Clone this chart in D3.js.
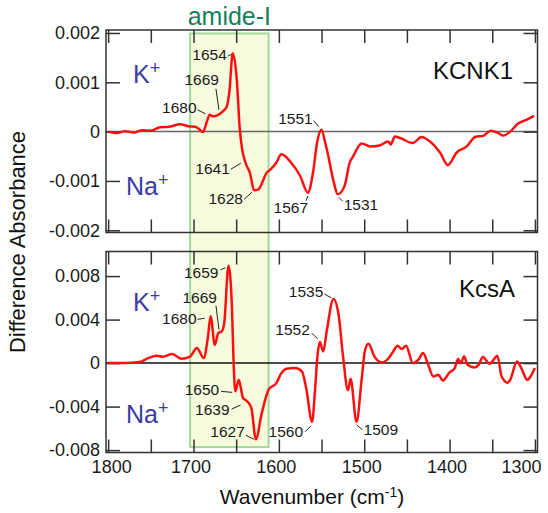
<!DOCTYPE html>
<html>
<head>
<meta charset="utf-8">
<script src="https://cdn.jsdelivr.net/npm/d3@7"></script>
<style>
  body { margin: 0; background: #fff; }
  svg { display: block; font-family: "Liberation Sans", Arial, sans-serif; }
</style>
</head>
<body>
<div id="chart"></div>
<script>
// KCNK1 difference spectrum (top panel)
const kcnk1Wn = [1800, 1790, 1780, 1770, 1760, 1750, 1739, 1728, 1716, 1706, 1698, 1692, 1689, 1684, 1681,
  1677, 1671, 1665, 1661, 1658, 1654, 1649, 1646, 1643, 1640, 1638, 1634, 1629, 1624, 1614, 1610, 1603,
  1597, 1587, 1575, 1566, 1560, 1555, 1550, 1546, 1542, 1536, 1531, 1523, 1517, 1513, 1503, 1493, 1482,
  1472, 1469, 1464, 1458, 1443, 1433, 1423, 1411, 1402, 1392, 1380, 1370, 1360, 1352, 1343, 1337, 1329,
  1320, 1310, 1301];
const kcnk1Abs = [0, -0.00003, 0.00001, -0.00002, 0.00003, 0.00002, 0.00009, 0.0001, 0.00015, 0.00011, 0.0001,
  0.00003, -0.00001, 0.00022, 0.00034, 0.00031, 0.00034, 0.00042, 0.00051, 0.0008, 0.00159, 0.00099, 0.0001,
  -0.00036, -0.00058, -0.00068, -0.00083, -0.00119, -0.00117, -0.00083, -0.00077, -0.00063, -0.00046, -0.0006,
  -0.0009, -0.00124, -0.00083, -0.0002, 0.00004, -0.0002, -0.0005, -0.001, -0.00127, -0.0011, -0.00063, -0.0005,
  -0.00024, -0.0003, -0.00028, -0.0002, -0.00026, -0.0001, -0.00013, -0.00023, -0.00011, -0.0002, -0.00043,
  -0.00068, -0.00043, -0.0003, -0.00011, -0.00008, 0.00002, -0.00003, -0.00008, 0, 0.00016, 0.00024, 0.00032];

// KcsA difference spectrum (bottom panel)
const kcsaWn = [1800, 1780, 1763, 1753, 1743, 1736, 1725, 1714, 1704, 1696, 1688, 1683, 1680, 1675, 1671, 1667,
  1664, 1659, 1655, 1653, 1651, 1647, 1642, 1639, 1636, 1632, 1627, 1620, 1612, 1603, 1597, 1591, 1581, 1573,
  1568, 1561, 1558, 1555, 1552, 1548, 1544, 1536, 1530, 1525, 1519, 1516, 1509, 1503, 1499, 1495, 1488, 1479,
  1472, 1466, 1461, 1456, 1451, 1443, 1436, 1431, 1425, 1419, 1413, 1408, 1400, 1394, 1390, 1387, 1383, 1379,
  1371, 1366, 1361, 1353, 1350, 1344, 1339, 1332, 1329, 1321, 1316, 1309, 1304, 1300];
const kcsaAbs = [0, 0, 0.0001, 0.00046, 0.00067, 0.00058, 0.00083, 0.0004, 0.0006, 0.00138, 0.00046, 0.00245,
  0.0043, 0.00168, 0.00276, 0.0029, 0.00368, 0.00895, 0.0052, 0, -0.0026, -0.00153, -0.0032, -0.0034, -0.0036,
  -0.0042, -0.007, -0.0046, -0.00245, -0.00184, -0.00092, -0.00052, -0.00046, -0.00077, -0.0023, -0.0054,
  -0.0029, 0.00046, 0.00193, 0.00107, 0.0029, 0.0059, 0.00444, 0.00076, -0.0025, -0.00145, -0.0054, -0.0015,
  0.00122, 0.00178, 0.0006, 0.00006, 0.0004, 0.00107, 0.0016, 0.00129, 0.0016, 0, 0.00037, 0.00092, -0.00016,
  -0.00123, -0.00108, -0.0016, -0.00086, -0.00046, 0.00037, 0, 0.0006, -0.00016, -0.0004, -0.00016, 0.00055,
  -0.00006, 0.00015, 0.00067, -0.00123, -0.0018, -0.00154, 0.00015, -0.00046, -0.00154, -0.00108, -0.00046];

// axis ticks
const xTicks = [1800, 1750, 1700, 1650, 1600, 1550, 1500, 1450, 1400, 1350, 1300];
const xLabels = [1800, 1700, 1600, 1500, 1400, 1300];
const topTicks = [0.002, 0.001, 0, -0.001, -0.002];
const topTickLabels = ["0.002", "0.001", "0", "-0.001", "-0.002"];
const botTicks = [0.008, 0.004, 0, -0.004, -0.008];
const botTickLabels = ["0.008", "0.004", "0", "-0.004", "-0.008"];

// amide-I band
const amideRange = [1704, 1612];

// peak labels: text, wavenumber, absorbance at the marked point
const kcnk1Peaks = [
  ["1654", 1654, 0.00159], ["1669", 1669, 0.00036], ["1680", 1680, 0.00034], ["1641", 1641, -0.00058],
  ["1628", 1628, -0.00119], ["1551", 1551, 0.00004], ["1567", 1567, -0.00124], ["1531", 1531, -0.00127]
];
const kcsaPeaks = [
  ["1659", 1659, 0.00895], ["1669", 1669, 0.0028], ["1680", 1680, 0.0043], ["1650", 1650, -0.0026],
  ["1639", 1639, -0.0034], ["1627", 1627, -0.007], ["1552", 1552, 0.00193], ["1535", 1535, 0.0059],
  ["1560", 1560, -0.0054], ["1509", 1509, -0.0054]
];

// label placement: [text dx, text dy, anchor, line x1, y1, x2, y2] relative to the marked point
const kcnk1Place = {
  "1654": [-6, 7, "end", -5, 3, -1, 1],
  "1669": [-1, -29, "end", -4, -25, -1, -4],
  "1680": [-14, -2, "end", -13, -5, -5, -1],
  "1641": [-14, 14, "end", -13, 9, -3, 3],
  "1628": [-12, 14, "end", -11, 9, -3, 2],
  "1551": [-8, -6, "end", -7, -9, -2, -3],
  "1567": [1, 20, "end", -1, 8, 1, 3],
  "1531": [6, 16, "start", 1, 3, 5, 7]
};
const kcsaPlace = {
  "1659": [-10, 12, "end", -8, 4, -3, 2],
  "1669": [-3, -30, "end", -4, -27, -1, -3],
  "1680": [-14, 8, "end", -13, 3, -6, 2],
  "1650": [-17, 4, "end", -15, 0, -4, 1],
  "1639": [-16, 15, "end", -14, 9, -5, 5],
  "1627": [-11, -2, "end", -10, -4, -2, 0],
  "1552": [-10, -7, "end", -8, -9, -2, -3],
  "1535": [-11, -2, "end", -10, -5, -3, -1],
  "1560": [-10, 15, "end", -8, 10, -2, 4],
  "1509": [7, 13, "start", 0, 3, 6, 8]
};

const W = 548, H = 513;
const left = 106, right = 537.5;
const topPanel = {y0: 30, y1: 232.5};
const botPanel = {y0: 251.5, y1: 452.5};

const svg = d3.select("#chart").append("svg")
  .attr("width", W).attr("height", H);

const x = d3.scaleLinear().domain([1802.5, 1297]).range([left, right]);
const yTop = d3.scaleLinear().domain([-0.002045, 0.00206]).range([topPanel.y1, topPanel.y0]);
const yBot = d3.scaleLinear().domain([-0.00822, 0.01026]).range([botPanel.y1, botPanel.y0]);

// amide-I highlight spans both panels
svg.append("rect")
  .attr("x", x(amideRange[0]))
  .attr("y", yTop(0.00199))
  .attr("width", x(amideRange[1]) - x(amideRange[0]))
  .attr("height", yBot(-0.00772) - yTop(0.00199))
  .attr("fill", "#f6fbdd")
  .attr("stroke", "#a3d99b")
  .attr("stroke-width", 2);

svg.append("text")
  .attr("x", x((amideRange[0] + amideRange[1]) / 2))
  .attr("y", 25)
  .attr("text-anchor", "middle")
  .attr("font-size", 25)
  .attr("fill", "#16805a")
  .text("amide-I");

function drawPanel(y, p, ticks, labels, zeroColor, showX) {
  const g = svg.append("g");

  // zero line
  g.append("line")
    .attr("x1", left).attr("x2", right)
    .attr("y1", y(0)).attr("y2", y(0))
    .attr("stroke", zeroColor).attr("stroke-width", 1.5);

  const axBottom = d3.axisBottom(x).tickValues(xTicks).tickSize(-13).tickFormat("");
  const axTop = d3.axisTop(x).tickValues(xTicks).tickSize(-13).tickFormat("");
  const axLeft = d3.axisLeft(y).tickValues(ticks).tickSize(-14).tickPadding(6)
    .tickFormat((d, i) => labels[i]);
  const axRight = d3.axisRight(y).tickValues(ticks).tickSize(-14).tickFormat("");

  g.append("g").attr("transform", `translate(0,${p.y1})`).call(axBottom);
  g.append("g").attr("transform", `translate(0,${p.y0})`).call(axTop);
  const gl = g.append("g").attr("transform", `translate(${left},0)`).call(axLeft);
  g.append("g").attr("transform", `translate(${right},0)`).call(axRight);

  g.selectAll(".domain").remove();
  g.selectAll(".tick line").attr("stroke", "#333").attr("stroke-width", 1.5);
  gl.selectAll("text").attr("font-size", 18).attr("fill", "#1a1a1a")
    .attr("font-family", "Liberation Sans, Arial, sans-serif");

  // frame
  g.append("rect")
    .attr("x", left).attr("y", p.y0)
    .attr("width", right - left).attr("height", p.y1 - p.y0)
    .attr("fill", "none").attr("stroke", "#333").attr("stroke-width", 1.5);

  if (showX) {
    const axLab = d3.axisBottom(x).tickValues(xLabels).tickSize(0).tickPadding(0)
      .tickFormat(d3.format("d"));
    const gx = svg.append("g").attr("transform", `translate(0,${p.y1})`).call(axLab);
    gx.select(".domain").remove();
    gx.selectAll("text")
      .attr("font-size", 18).attr("fill", "#1a1a1a")
      .attr("font-family", "Liberation Sans, Arial, sans-serif")
      .attr("dy", null).attr("y", 20)
      .attr("dx", d => d === 1800 ? 3 : d === 1300 ? -14 : -3);
  }
}

drawPanel(yTop, topPanel, topTicks, topTickLabels, "#666", false);
drawPanel(yBot, botPanel, botTicks, botTickLabels, "#111", true);

function drawCurve(wn, ab, y) {
  const pts = wn.map((w, i) => [w, ab[i]]);
  svg.append("path")
    .datum(pts)
    .attr("fill", "none")
    .attr("stroke", "#ff1010")
    .attr("stroke-width", 2.5)
    .attr("stroke-linejoin", "round")
    .attr("d", d3.line().x(d => x(d[0])).y(d => y(d[1])).curve(d3.curveMonotoneX));
}

drawCurve(kcnk1Wn, kcnk1Abs, yTop);
drawCurve(kcsaWn, kcsaAbs, yBot);

function drawPeaks(peaks, place, y) {
  peaks.forEach(([lab, w, v]) => {
    const px = x(w), py = y(v);
    const [tdx, tdy, anchor, lx1, ly1, lx2, ly2] = place[lab];
    svg.append("line")
      .attr("x1", px + lx1).attr("y1", py + ly1)
      .attr("x2", px + lx2).attr("y2", py + ly2)
      .attr("stroke", "#222").attr("stroke-width", 1);
    svg.append("text")
      .attr("x", px + tdx).attr("y", py + tdy)
      .attr("text-anchor", anchor)
      .attr("font-size", 15.5).attr("fill", "#1a1a1a")
      .text(lab);
  });
}

drawPeaks(kcnk1Peaks, kcnk1Place, yTop);
drawPeaks(kcsaPeaks, kcsaPlace, yBot);

// panel names
svg.append("text").attr("x", 513).attr("y", 79).attr("text-anchor", "end")
  .attr("font-size", 24).attr("fill", "#111").text("KCNK1");
svg.append("text").attr("x", 515).attr("y", 297).attr("text-anchor", "end")
  .attr("font-size", 24).attr("fill", "#111").text("KcsA");

// ion labels
function ion(xp, yp, base) {
  const t = svg.append("text").attr("x", xp).attr("y", yp)
    .attr("font-size", 25).attr("fill", "#3b3aa6");
  t.append("tspan").text(base);
  t.append("tspan").attr("dy", -9).attr("font-size", 18).text("+");
}
ion(133, 83, "K");
ion(126, 195, "Na");
ion(133, 311, "K");
ion(126, 423, "Na");

// axis titles
const xt = svg.append("text").attr("x", 312).attr("y", 504)
  .attr("text-anchor", "middle").attr("font-size", 21).attr("fill", "#111");
xt.append("tspan").text("Wavenumber (cm");
xt.append("tspan").attr("dy", -7).attr("font-size", 14).text("-1");
xt.append("tspan").attr("dy", 7).text(")");

svg.append("text")
  .attr("transform", "translate(25,242) rotate(-90)")
  .attr("text-anchor", "middle")
  .attr("font-size", 22).attr("fill", "#111")
  .text("Difference Absorbance");
</script>
</body>
</html>
